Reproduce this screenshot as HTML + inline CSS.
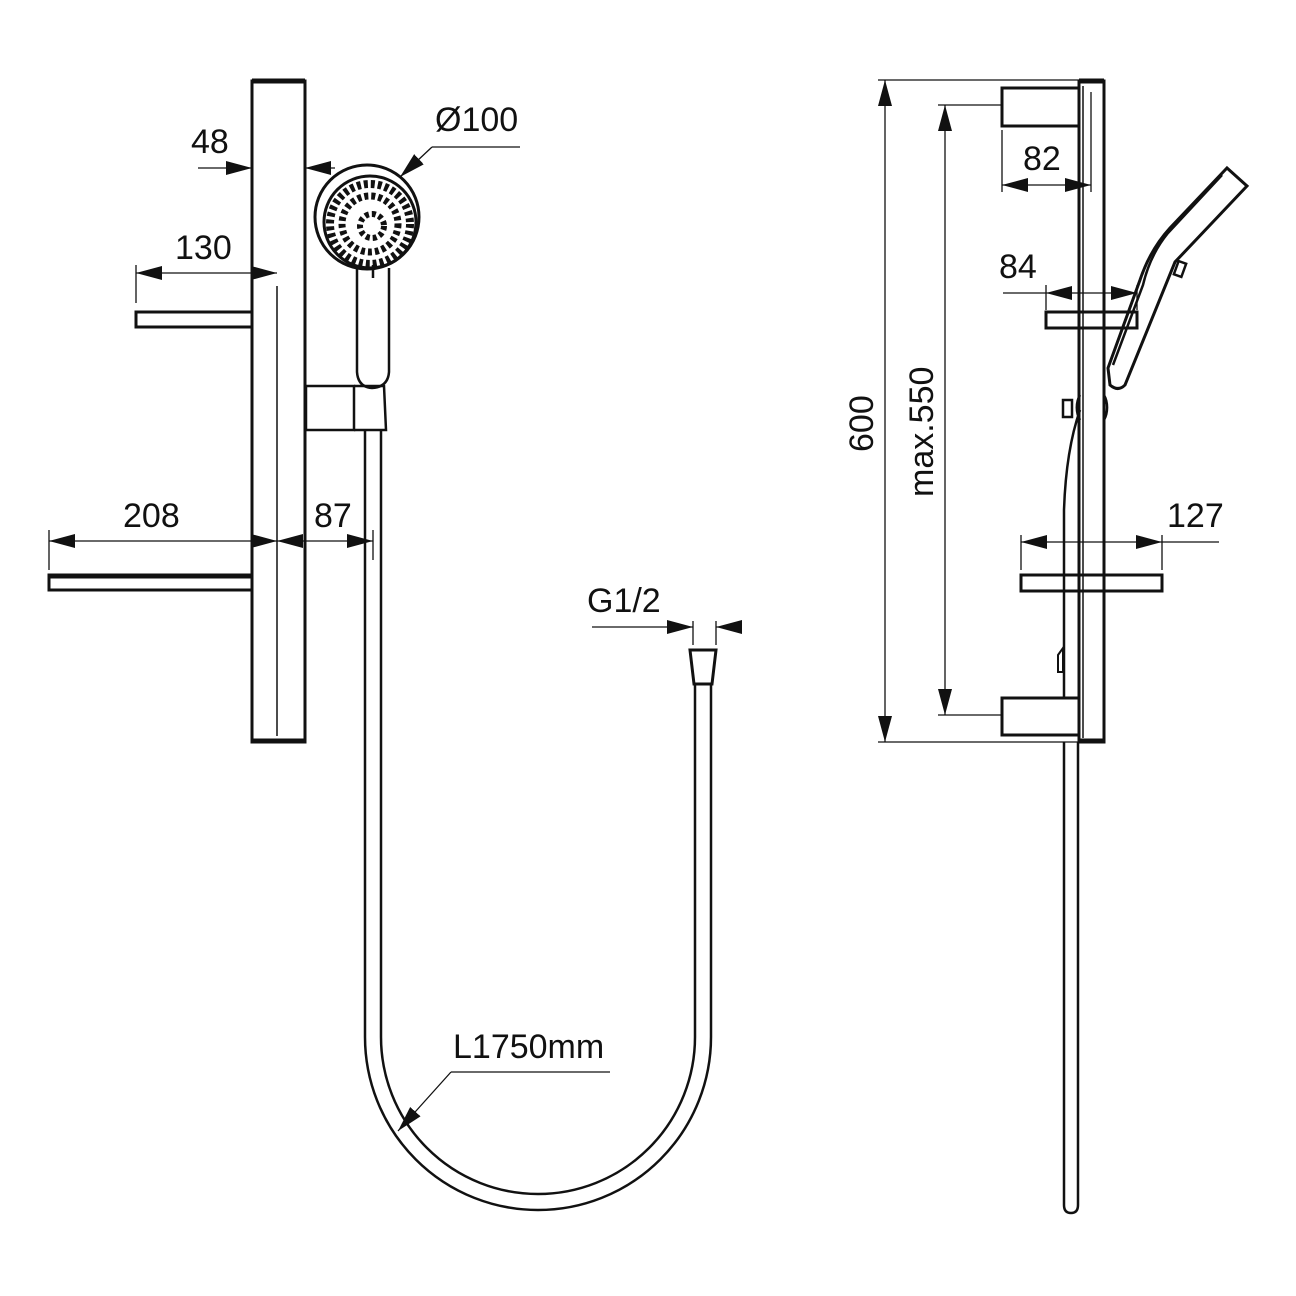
<!DOCTYPE html>
<html><head><meta charset="utf-8"><style>
html,body{margin:0;padding:0;background:#fff;}
svg{display:block;}
text{font-family:"Liberation Sans",Arial,sans-serif;font-size:34px;fill:#111;}
</style></head><body>
<svg width="1296" height="1296" viewBox="0 0 1296 1296" xmlns="http://www.w3.org/2000/svg">
<defs>
<marker id="a" viewBox="0 0 26 14" refX="26" refY="7" markerWidth="26" markerHeight="14" markerUnits="userSpaceOnUse" orient="auto"><path d="M0,0 L26,7 L0,14 Z" fill="#111"/></marker>
<marker id="b" viewBox="0 0 26 14" refX="0" refY="7" markerWidth="26" markerHeight="14" markerUnits="userSpaceOnUse" orient="auto"><path d="M26,0 L0,7 L26,14 Z" fill="#111"/></marker>
</defs>
<g fill="none" stroke="#111" stroke-width="2.5">
<!-- LEFT VIEW -->
<rect x="252" y="81" width="53" height="661" stroke-width="3"/>
<line x1="252" y1="81" x2="305" y2="81" stroke-width="5"/>
<line x1="252" y1="741" x2="305" y2="741" stroke-width="5"/>
<line x1="277" y1="286" x2="277" y2="736" stroke-width="1.5"/>
<rect x="136" y="312" width="116" height="15" stroke-width="3"/>
<rect x="49" y="575" width="203" height="15" stroke-width="3"/>
<line x1="49" y1="576" x2="252" y2="576" stroke-width="5"/>
<!-- holder -->
<rect x="306" y="386" width="48" height="44"/>
<path d="M354,386 L384,386 L386,430 L354,430"/>
<!-- head -->
<circle cx="367" cy="217" r="52" stroke-width="3"/>
<circle cx="370" cy="222" r="46" stroke-width="3"/>
<circle cx="370" cy="224" r="40" stroke="#111" stroke-width="8" stroke-dasharray="4 3"/>
<circle cx="370" cy="224" r="28" stroke="#111" stroke-width="7" stroke-dasharray="4 3"/>
<circle cx="372" cy="226" r="12" stroke="#111" stroke-width="6" stroke-dasharray="4 3"/>
<path d="M357,268 L357,372 Q358,387 372,388 Q388,387 389,372 L389,268"/>
<line x1="373" y1="265" x2="373" y2="278"/>
<!-- hose -->
<path d="M365,430 L365,1037 A173,173 0 0 0 711,1037 L711,684"/>
<path d="M381,430 L381,1037 A157,157 0 0 0 695,1037 L695,684"/>
<path d="M690,650 L716,650 L712,684 L694,684 Z" stroke-width="3"/>
<!-- dims left -->
<g stroke-width="1.3">
<line x1="198" y1="168" x2="252" y2="168" marker-end="url(#a)"/>
<line x1="305" y1="168" x2="335" y2="168" marker-start="url(#b)"/>
<line x1="136" y1="265" x2="136" y2="303"/>
<line x1="136" y1="273" x2="277" y2="273" marker-start="url(#b)" marker-end="url(#a)"/>
<line x1="49" y1="530" x2="49" y2="570"/>
<line x1="49" y1="541" x2="277" y2="541" marker-start="url(#b)" marker-end="url(#a)"/>
<line x1="277" y1="541" x2="373" y2="541" marker-start="url(#b)" marker-end="url(#a)"/>
<line x1="373" y1="530" x2="373" y2="560"/>
<line x1="520" y1="147" x2="432" y2="147"/>
<line x1="432" y1="147" x2="400" y2="177" marker-end="url(#a)"/>
<line x1="592" y1="627" x2="693" y2="627" marker-end="url(#a)"/>
<line x1="742" y1="627" x2="716" y2="627" marker-end="url(#a)"/>
<line x1="693" y1="621" x2="693" y2="645"/>
<line x1="716" y1="621" x2="716" y2="645"/>
<line x1="610" y1="1072" x2="451" y2="1072"/>
<line x1="451" y1="1072" x2="398" y2="1131" marker-end="url(#a)"/>
</g>
<!-- RIGHT VIEW -->
<rect x="1079" y="81" width="25" height="661" stroke-width="3"/>
<line x1="1079" y1="81" x2="1104" y2="81" stroke-width="5"/>
<line x1="1079" y1="741" x2="1104" y2="741" stroke-width="5"/>
<line x1="1083" y1="86" x2="1083" y2="738" stroke-width="1.5"/>
<rect x="1002" y="88" width="77" height="38" stroke-width="3"/>
<rect x="1002" y="698" width="77" height="37" stroke-width="3"/>
<rect x="1046" y="312" width="91" height="16" stroke-width="3"/>
<rect x="1021" y="575" width="141" height="16" stroke-width="3"/>
<!-- hose right -->
<path d="M1064,742 L1064,1205 Q1064,1213 1071,1213 Q1078,1213 1078,1205 L1078,742"/>
<path d="M1064,698 L1064,510 Q1066,450 1080,410" />
<path d="M1058,655 L1063,648 L1063,672 L1058,672 Z" stroke-width="2"/>
<!-- holder knob -->
<path d="M1080,395 A18,22 0 0 0 1080,420"/>
<rect x="1063" y="400" width="9" height="17"/>
<path d="M1104,395 A14,20 0 0 1 1104,420"/>
<!-- handshower -->
<path d="M1227,168 L1247,186 L1175,262 L1125,385 Q1118,392 1110,385 L1108,368 L1140,280 Q1150,250 1170,228 Z" stroke-width="3"/>
<path d="M1222,175 L1168,233 Q1150,255 1143,285 L1113,365"/>
<rect x="1176" y="262" width="8" height="14" transform="rotate(20 1180 269)"/>
<!-- dims right -->
<g stroke-width="1.3">
<line x1="878" y1="80" x2="1079" y2="80"/>
<line x1="878" y1="742" x2="1079" y2="742"/>
<line x1="885" y1="80" x2="885" y2="742" marker-start="url(#b)" marker-end="url(#a)"/>
<line x1="938" y1="105" x2="1002" y2="105"/>
<line x1="938" y1="715" x2="1002" y2="715"/>
<line x1="945" y1="105" x2="945" y2="715" marker-start="url(#b)" marker-end="url(#a)"/>
<line x1="1002" y1="130" x2="1002" y2="192"/>
<line x1="1091" y1="92" x2="1091" y2="192"/>
<line x1="1002" y1="185" x2="1091" y2="185" marker-start="url(#b)" marker-end="url(#a)"/>
<line x1="1003" y1="293" x2="1046" y2="293"/>
<line x1="1046" y1="285" x2="1046" y2="310"/>
<line x1="1137" y1="285" x2="1137" y2="310"/>
<line x1="1046" y1="293" x2="1137" y2="293" marker-start="url(#b)" marker-end="url(#a)"/>
<line x1="1021" y1="535" x2="1021" y2="570"/>
<line x1="1162" y1="535" x2="1162" y2="570"/>
<line x1="1021" y1="542" x2="1162" y2="542" marker-start="url(#b)" marker-end="url(#a)"/>
<line x1="1162" y1="542" x2="1219" y2="542"/>
</g>
</g>
<text x="191" y="153">48</text>
<text x="175" y="259">130</text>
<text x="123" y="527">208</text>
<text x="314" y="527">87</text>
<text x="435" y="131">Ø100</text>
<text x="587" y="612">G1/2</text>
<text x="453" y="1058">L1750mm</text>
<text x="1023" y="170">82</text>
<text x="999" y="278">84</text>
<text x="1167" y="527">127</text>
<text transform="translate(873,452) rotate(-90)">600</text>
<text transform="translate(933,497) rotate(-90)">max.550</text>
</svg>
</body></html>
